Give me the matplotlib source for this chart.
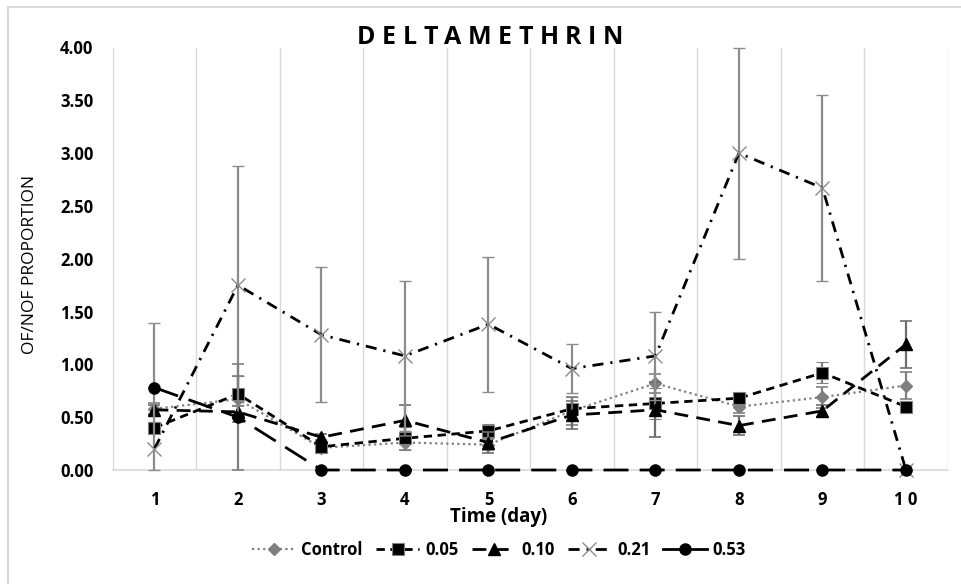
import matplotlib
matplotlib.use("Agg")
import matplotlib.pyplot as plt
from matplotlib.patches import Rectangle
from matplotlib.lines import Line2D
import numpy as np

days = [1, 2, 3, 4, 5, 6, 7, 8, 9, 10]
day_labels = ["1", "2", "3", "4", "5", "6", "7", "8", "9", "1 0"]

control = [0.58, 0.67, 0.21, 0.26, 0.24, 0.56, 0.82, 0.60, 0.69, 0.80]
control_err = [0.05, 0.22, 0.03, 0.07, 0.05, 0.13, 0.09, 0.06, 0.10, 0.13]

c005 = [0.40, 0.72, 0.22, 0.30, 0.37, 0.58, 0.63, 0.68, 0.92, 0.60]
c005_err = [0.05, 0.17, 0.03, 0.11, 0.07, 0.11, 0.15, 0.05, 0.10, 0.05]

c010 = [0.57, 0.55, 0.31, 0.47, 0.26, 0.52, 0.57, 0.42, 0.56, 1.19]
c010_err = [0.05, 0.06, 0.03, 0.15, 0.10, 0.13, 0.26, 0.09, 0.06, 0.22]

c021 = [0.20, 1.75, 1.28, 1.08, 1.38, 0.96, 1.08, 3.00, 2.67, 0.00]
c021_err = [1.19, 1.13, 0.64, 0.71, 0.64, 0.23, 0.42, 1.00, 0.88, 0.00]

c053 = [0.78, 0.50, 0.00, 0.00, 0.00, 0.00, 0.00, 0.00, 0.00, 0.00]
c053_err = [0.00, 0.50, 0.00, 0.00, 0.00, 0.00, 0.00, 0.00, 0.00, 0.00]

yticks = [0.0, 0.5, 1.0, 1.5, 2.0, 2.5, 3.0, 3.5, 4.0]
title = "DELTAMETHRIN"

plt.rcParams['font.family'] = ['Open Sans', 'DejaVu Sans']

fig = plt.figure(figsize=(9.61, 5.84), dpi=100)
W, H = 961, 584
left, right, bottom, top = 112.7, 947.7, 470, 47.5
ax = fig.add_axes([left / W, 1 - bottom / H, (right - left) / W, (bottom - top) / H])

# figure border
fig.patches.append(Rectangle((8 / W, -0.05), 1.1, 1 - 7 / H + 0.05, transform=fig.transFigure,
                             fill=False, edgecolor='#d9d9d9', linewidth=1.5, zorder=0))

series = [
    ("Control", control, control_err, dict(color='#7f7f7f', linestyle=(0, (1, 1.5)), linewidth=1.6,
                                          marker='D', markersize=6, markerfacecolor='#7f7f7f',
                                          markeredgecolor='#7f7f7f'), '#808080'),
    ("0.05", c005, c005_err, dict(color='black', linestyle=(0, (3, 2)), linewidth=2,
                                 marker='s', markersize=8, markerfacecolor='black',
                                 markeredgecolor='#808080', markeredgewidth=0.8), '#808080'),
    ("0.10", c010, c010_err, dict(color='black', linestyle=(0, (5, 3)), linewidth=2,
                                 marker='^', markersize=8, markerfacecolor='black',
                                 markeredgecolor='black'), '#6e6e6e'),
    ("0.21", c021, c021_err, dict(color='black', linestyle=(0, (4, 2.5, 0.8, 2.5)), linewidth=2,
                                 marker='x', markersize=10, markeredgecolor='#8c8c8c',
                                 markeredgewidth=1.0), '#8c8c8c'),
    ("0.53", c053, c053_err, dict(color='black', linestyle=(0, (9, 4)), linewidth=2,
                                 marker='o', markersize=8, markerfacecolor='black',
                                 markeredgecolor='black'), '#808080'),
]

handles = []
for i, (name, vals, err, style, ecol) in enumerate(series):
    vals_a = np.array(vals)
    err_a = np.array(err)
    lower = np.minimum(err_a, vals_a)  # error bars stop at the axis floor
    eb = ax.errorbar(days, vals, yerr=[lower, err_a], ecolor=ecol, elinewidth=1.6, capsize=4,
                     capthick=1.2, label=name, zorder=3 + i, **style)
    eb[0].set_clip_on(False)
    for c in eb[1]:
        c.set_clip_on(False)
    for c in eb[2]:
        c.set_clip_on(False)
    hstyle = dict(style)
    if name == "0.53":
        hstyle['linestyle'] = '-'
    handles.append(Line2D([], [], **hstyle))

ax.set_xlim(0.5, 10.5)
ax.set_ylim(0, 4.0)
ax.set_xticks(days)
ax.set_xticklabels(day_labels, fontweight='bold', fontsize=12)
ax.set_yticks(yticks)
ax.set_yticklabels([f"{v:.2f}" for v in yticks], fontweight='bold', fontsize=12)
ax.tick_params(axis='both', length=0)
ax.tick_params(axis='y', pad=14)
ax.tick_params(axis='x', pad=15)

ax.set_xticks(np.arange(0.5, 11, 1.0), minor=True)
ax.grid(which='minor', axis='x', color='#d9d9d9', linewidth=1)
ax.grid(which='major', visible=False)
ax.tick_params(which='minor', length=0)
ax.set_axisbelow(True)
for s in ['top', 'left', 'right']:
    ax.spines[s].set_visible(False)
ax.spines['bottom'].set_color('#d9d9d9')
ax.spines['bottom'].set_linewidth(1.2)
ax.spines['bottom'].set_zorder(1)

# letter-spaced title
renderer = fig.canvas.get_renderer()
tracking = 6.5  # px
chars = []
widths = []
for ch in title:
    t = fig.text(0, 0, ch, fontsize=18, fontweight='bold', ha='left', va='center')
    w = t.get_window_extent(renderer).width
    chars.append(t)
    widths.append(w)
total = sum(widths) + tracking * (len(title) - 1)
x0 = 490 - total / 2
for t, w in zip(chars, widths):
    t.set_position((x0 / W, 1 - 38 / H))
    x0 += w + tracking

fig.text(499 / W, 1 - 517 / H, "Time (day)", ha='center', va='center',
         fontsize=13.5, fontweight='bold')
fig.text(30 / W, 1 - 264 / H, "OF/NOF PROPORTION", ha='center', va='center',
         rotation=90, fontsize=12.5)

leg = fig.legend(handles=handles, labels=[s[0] for s in series], loc='center',
                 bbox_to_anchor=(499 / W, 1 - 550 / H), ncol=5, frameon=False,
                 handlelength=2.6, columnspacing=0.8, handletextpad=0.35,
                 prop=dict(weight='bold', size=12))

fig.savefig("out.png", dpi=100)
